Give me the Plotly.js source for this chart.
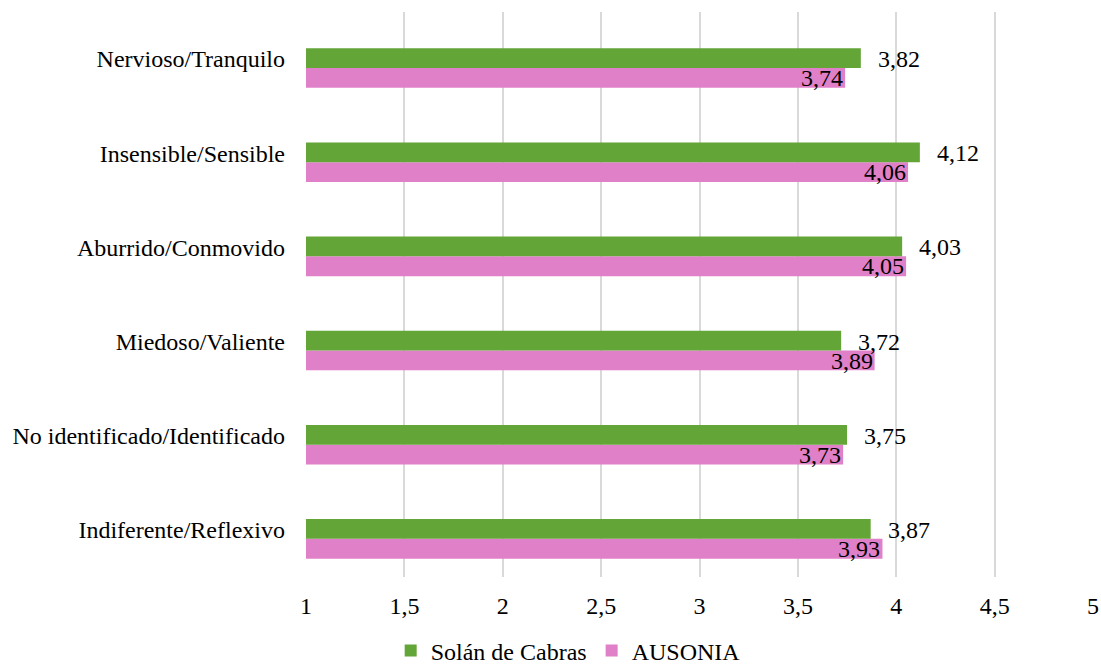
<!DOCTYPE html>
<html>
<head>
<meta charset="utf-8">
<script src="https://cdn.plot.ly/plotly-3.0.1.min.js"></script>
<style>html,body{margin:0;padding:0;background:#fff;}#chart{width:1101px;height:667px;}</style>
</head>
<body>
<div id="chart"></div>
<script>
// Categories listed bottom-to-top
const categories = [
  "Indiferente/Reflexivo",
  "No identificado/Identificado",
  "Miedoso/Valiente",
  "Aburrido/Conmovido",
  "Insensible/Sensible",
  "Nervioso/Tranquilo"
];
const solanValues = [3.87, 3.75, 3.72, 4.03, 4.12, 3.82];
const ausoniaValues = [3.93, 3.73, 3.89, 4.05, 4.06, 3.74];
const xTickVals = [1, 1.5, 2, 2.5, 3, 3.5, 4, 4.5, 5];

const FONT = "Liberation Serif, Times New Roman, serif";
const FS = 24;
const GREEN = "rgb(99,165,55)";
const PINK = "rgb(224,128,200)";
const fmt = v => v.toFixed(2).replace(".", ",");

const traces = [
  {type: "bar", orientation: "h", name: "AUSONIA", y: categories, x: ausoniaValues,
   marker: {color: PINK}, width: 0.21, offset: -0.305, hoverinfo: "skip"},
  {type: "bar", orientation: "h", name: "Solán de Cabras", y: categories, x: solanValues,
   marker: {color: GREEN}, width: 0.21, offset: -0.095, hoverinfo: "skip"}
];

const annotations = [];
categories.forEach((c, i) => {
  annotations.push({x: solanValues[i], y: c, xref: "x", yref: "y", text: fmt(solanValues[i]),
    showarrow: false, xanchor: "left", yanchor: "middle", xshift: 15, yshift: 0,
    font: {family: FONT, size: FS, color: "#000"}});
  annotations.push({x: ausoniaValues[i], y: c, xref: "x", yref: "y", text: fmt(ausoniaValues[i]),
    showarrow: false, xanchor: "right", yanchor: "middle", xshift: 0, yshift: -19,
    font: {family: FONT, size: FS, color: "#000"}});
});

const layout = {
  width: 1101, height: 667,
  margin: {l: 306, r: 8, t: 12, b: 90, autoexpand: false},
  paper_bgcolor: "#fff", plot_bgcolor: "#fff",
  font: {family: FONT, size: FS, color: "#000"},
  separators: ", ",
  barmode: "overlay",
  showlegend: true,
  legend: {orientation: "h", x: 0.1076, xanchor: "left", y: -0.131, yanchor: "middle",
    traceorder: "reversed", font: {family: FONT, size: FS, color: "#000"}},
  xaxis: {range: [1, 5], tickvals: xTickVals, ticktext: xTickVals.map(v => String(v).replace(".", ",")),
    showgrid: true, gridcolor: "#d9d9d9", gridwidth: 2, zeroline: false, showline: false,
    ticks: "", ticklabelstandoff: 12, fixedrange: true, automargin: false},
  yaxis: {type: "category", categoryorder: "array", categoryarray: categories,
    range: [-0.5, 5.5], showgrid: false, zeroline: false, showline: false,
    ticks: "", ticklabelstandoff: 20, fixedrange: true, automargin: false},
  annotations: annotations
};

Plotly.newPlot("chart", traces, layout, {displayModeBar: false, staticPlot: true});
</script>
</body>
</html>
